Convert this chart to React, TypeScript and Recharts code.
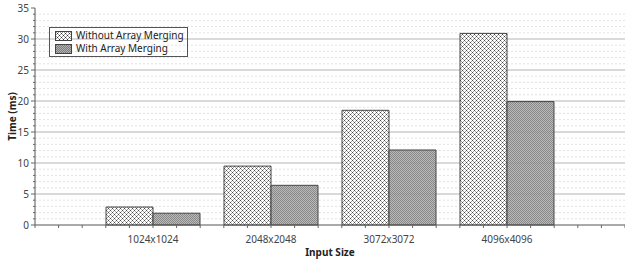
import React from 'react';
import { BarChart, Bar, XAxis, YAxis, CartesianGrid, Legend } from 'recharts';

const categories = ['1024x1024', '2048x2048', '3072x3072', '4096x4096'];
const withoutMerging = [2.9, 9.5, 18.5, 30.9];
const withMerging = [1.9, 6.4, 12.1, 19.9];

const majorTicks = [0, 5, 10, 15, 20, 25, 30, 35];
const allTicks = [
  0, 1, 2, 3, 4, 5, 6, 7, 8, 9, 10, 11, 12, 13, 14, 15, 16, 17,
  18, 19, 20, 21, 22, 23, 24, 25, 26, 27, 28, 29, 30, 31, 32, 33, 34, 35,
];
const majorGrid = [5, 10, 15, 20, 25, 30];
const minorGrid = allTicks.filter((t) => t > 0 && t < 35 && t % 5 !== 0);

const data = categories.map((name, i) => ({
  name,
  without: withoutMerging[i],
  with: withMerging[i],
}));

const FONT = '"Noto Sans", sans-serif';
const SLOT = 118; // width of one category slot in px
const X_MARGIN = 10;
const Y_MARGIN = 6;

const XTick = (props: any) => {
  const { x, y, payload, index } = props;
  const axisY = y - X_MARGIN;
  const step = SLOT * 0.2;
  const ks = [-2, -1, 0, 1, 2];
  if (index === 0) ks.push(-3, -4, -5);
  if (index === categories.length - 1) ks.push(3, 4, 5);
  return (
    <g>
      {ks.map((k) => (
        <line key={k} x1={x + k * step} x2={x + k * step} y1={axisY} y2={axisY + 3} stroke="#666" />
      ))}
      <text x={x} y={y} dy="0.75em" textAnchor="middle" fill="#444" fontSize={10} fontFamily={FONT}>
        {payload.value}
      </text>
    </g>
  );
};

const YTick = (props: any) => {
  const { x, y, payload } = props;
  const axisX = x + Y_MARGIN;
  const major = majorTicks.includes(payload.value);
  return (
    <g>
      <line x1={axisX - (major ? 4 : 2)} x2={axisX} y1={y} y2={y} stroke="#666" />
      {major && (
        <text x={x} y={y} dy="0.35em" textAnchor="end" fill="#444" fontSize={10} fontFamily={FONT}>
          {payload.value}
        </text>
      )}
    </g>
  );
};

const LegendBox = () => (
  <div
    style={{
      border: '1px solid #555',
      padding: '1px 4px 1px 5px',
      fontFamily: FONT,
      fontSize: 10,
      color: '#222',
      width: 128,
    }}
  >
    {[
      { label: 'Without Array Merging', fill: 'url(#hatchWithout)' },
      { label: 'With Array Merging', fill: 'url(#hatchWith)' },
    ].map((it) => (
      <div
        key={it.label}
        style={{ display: 'flex', alignItems: 'center', whiteSpace: 'nowrap', height: 13, lineHeight: '13px' }}
      >
        <svg width={17} height={10} style={{ marginRight: 4, flex: 'none' }}>
          <rect x={0.5} y={0.5} width={16} height={9} fill={it.fill} stroke="#444" />
        </svg>
        <span>{it.label}</span>
      </div>
    ))}
  </div>
);

const YLabel = (props: any) => {
  const { viewBox } = props;
  const cx = viewBox.x + 12;
  const cy = viewBox.y + viewBox.height / 2;
  return (
    <text
      x={cx}
      y={cy}
      transform={`rotate(-90 ${cx} ${cy})`}
      textAnchor="middle"
      dominantBaseline="central"
      fontSize={10}
      fontWeight="bold"
      fontFamily={FONT}
      fill="#222"
    >
      Time (ms)
    </text>
  );
};

export default function App() {
  return (
    <div style={{ position: 'absolute', left: 0, top: 0, width: 625, height: 260, background: '#fff' }}>
      <BarChart
        width={625}
        height={260}
        data={data}
        margin={{ top: 8, right: 0, left: 0, bottom: 0 }}
        barCategoryGap={12}
        barGap={0}
      >
        <defs>
          <pattern id="hatchWithout" width="4" height="4" patternUnits="userSpaceOnUse">
            <rect width="4" height="4" fill="#fff" />
            <rect x="0" y="0" width="1" height="1" fill="#333" />
            <rect x="2" y="2" width="1" height="1" fill="#333" />
            <rect x="1" y="1" width="1" height="1" fill="#999" />
            <rect x="3" y="3" width="1" height="1" fill="#999" />
            <rect x="3" y="1" width="1" height="1" fill="#999" />
            <rect x="1" y="3" width="1" height="1" fill="#999" />
          </pattern>
          <pattern id="hatchWith" width="2" height="2" patternUnits="userSpaceOnUse">
            <rect width="2" height="2" fill="#b2b2b2" />
            <rect x="0" y="0" width="1" height="1" fill="#7c7c7c" />
            <rect x="1" y="1" width="1" height="1" fill="#7c7c7c" />
          </pattern>
        </defs>
        <CartesianGrid vertical={false} horizontalValues={minorGrid} stroke="#e2e2e2" strokeDasharray="2 2" />
        <CartesianGrid vertical={false} horizontalValues={majorGrid} stroke="#b4b4b4" />
        <XAxis
          dataKey="name"
          padding={{ left: SLOT / 2, right: SLOT / 2 }}
          height={35}
          tickLine={false}
          tickSize={0}
          tickMargin={X_MARGIN}
          tick={<XTick />}
          interval={0}
          axisLine={{ stroke: '#555' }}
          label={{
            value: 'Input Size',
            position: 'insideBottom',
            offset: 4,
            fontSize: 10,
            fontWeight: 'bold',
            fontFamily: FONT,
            fill: '#222',
          }}
        />
        <YAxis
          type="number"
          domain={[0, 35]}
          ticks={allTicks}
          interval={0}
          width={35}
          tickLine={false}
          tickSize={0}
          tickMargin={Y_MARGIN}
          tick={<YTick />}
          axisLine={{ stroke: '#555' }}
          label={<YLabel />}
        />
        <Legend
          layout="horizontal"
          verticalAlign="middle"
          align="center"
          content={<LegendBox />}
          wrapperStyle={{ left: 49, top: 27, width: 'auto' }}
        />
        <Bar
          dataKey="without"
          name="Without Array Merging"
          fill="url(#hatchWithout)"
          fillOpacity={0.9}
          stroke="#444"
          isAnimationActive={false}
        />
        <Bar
          dataKey="with"
          name="With Array Merging"
          fill="url(#hatchWith)"
          fillOpacity={0.9}
          stroke="#444"
          isAnimationActive={false}
        />
      </BarChart>
    </div>
  );
}
